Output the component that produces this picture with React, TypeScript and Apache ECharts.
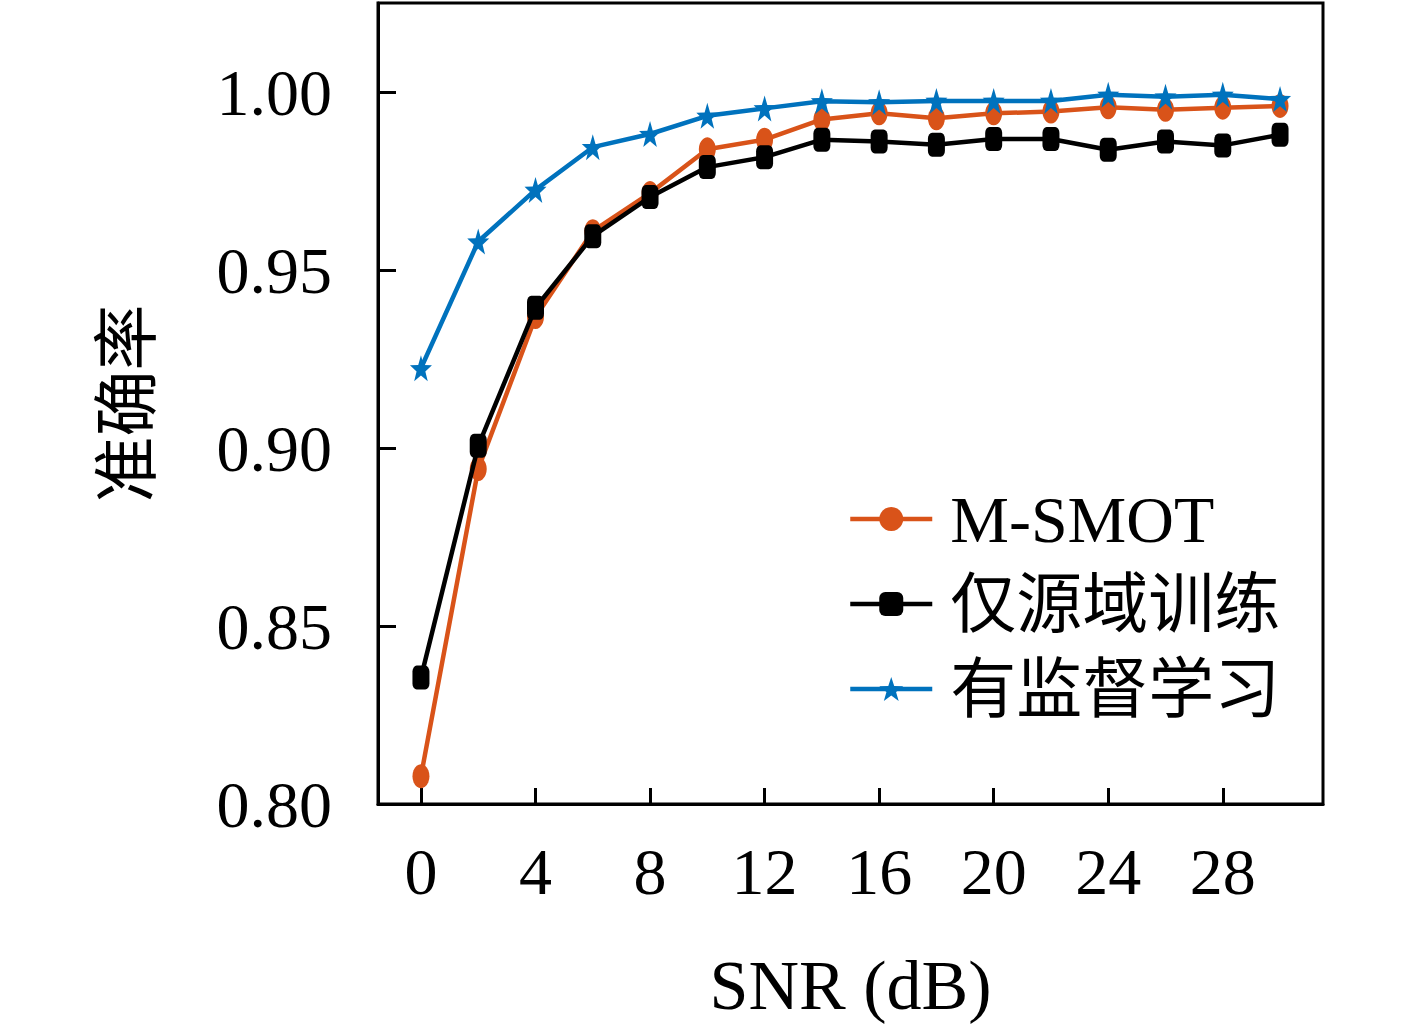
import React, { useEffect, useRef } from "react";
import * as echarts from "echarts";

const snr = [0, 2, 4, 6, 8, 10, 12, 14, 16, 18, 20, 22, 24, 26, 28, 30];
const msmot = [0.8078, 0.8941, 0.9368, 0.9609, 0.9716, 0.9839, 0.9866, 0.9923, 0.994, 0.9926, 0.994, 0.9945, 0.9957, 0.995, 0.9956, 0.9961];
const sourceOnly = [0.8355, 0.9006, 0.9394, 0.9595, 0.9705, 0.9789, 0.9817, 0.9866, 0.9861, 0.9852, 0.9868, 0.9868, 0.9838, 0.9861, 0.985, 0.988];
const supervised = [0.9224, 0.958, 0.9725, 0.9845, 0.9882, 0.9933, 0.9954, 0.9974, 0.9971, 0.9975, 0.9975, 0.9975, 0.9992, 0.9987, 0.9992, 0.998];
const xTicks = [0, 4, 8, 12, 16, 20, 24, 28];
const yTicks = [0.8, 0.85, 0.9, 0.95, 1.0];
const seriesNames = ["M-SMOT", "仅源域训练", "有监督学习"];

const FONT = "'Liberation Serif', 'Noto Sans CJK SC', serif";
const STAR =
  "path://M0,-10 L2.35,-3.24 L9.51,-3.09 L3.8,1.24 L5.88,8.09 L0,4 L-5.88,8.09 L-3.8,1.24 L-9.51,-3.09 L-2.35,-3.24 Z";

export default function App() {
  const ref = useRef<HTMLDivElement>(null);
  useEffect(() => {
    const chart = echarts.init(ref.current!, null, { renderer: "svg" });
    const mk = (arr: number[]) => snr.map((x, i) => [x, arr[i]]);
    chart.setOption({
      animation: false,
      backgroundColor: "#fff",
      textStyle: { fontFamily: FONT },
      grid: {
        left: 378,
        top: 3,
        right: 94,
        bottom: 219,
        show: true,
        borderColor: "#000",
        borderWidth: 3,
        backgroundColor: "transparent",
      },
      legend: {
        orient: "vertical",
        left: 843,
        top: 481,
        itemWidth: 82,
        itemHeight: 30,
        itemGap: 19,
        lineStyle: { width: 4.5 },
        textStyle: {
          fontFamily: FONT,
          fontSize: 66,
          color: "#000",
          lineHeight: 64,
          padding: [0, 0, 0, 13],
        },
        data: seriesNames,
      },
      xAxis: {
        type: "value",
        min: -1.5,
        max: 31.5,
        name: "SNR (dB)",
        nameLocation: "middle",
        nameGap: 146,
        nameTextStyle: { fontFamily: FONT, fontSize: 70, color: "#000" },
        splitLine: { show: false },
        axisLine: { show: true, onZero: false, lineStyle: { color: "#000", width: 3 } },
        axisTick: {
          show: true,
          inside: true,
          length: 16,
          lineStyle: { color: "#000", width: 3 },
          customValues: xTicks,
        },
        axisLabel: {
          fontFamily: FONT,
          fontSize: 66,
          color: "#000",
          margin: 34,
          customValues: xTicks,
          formatter: (v: number) => String(v),
        },
      },
      yAxis: {
        type: "value",
        min: 0.8,
        max: 1.025,
        name: "准确率",
        nameLocation: "middle",
        nameRotate: 90,
        nameGap: 218,
        nameTextStyle: { fontFamily: FONT, fontSize: 66, color: "#000" },
        splitLine: { show: false },
        axisLine: { show: true, onZero: false, lineStyle: { color: "#000", width: 3 } },
        axisTick: {
          show: true,
          inside: true,
          length: 18,
          lineStyle: { color: "#000", width: 3 },
          customValues: yTicks,
        },
        axisLabel: {
          fontFamily: FONT,
          fontSize: 66,
          color: "#000",
          margin: 46,
          customValues: yTicks,
          formatter: (v: number) => v.toFixed(2),
        },
      },
      series: [
        {
          name: seriesNames[0],
          type: "line",
          data: mk(msmot),
          color: "#D95319",
          lineStyle: { width: 4.5, color: "#D95319" },
          symbol: "circle",
          symbolSize: [17, 24],
          itemStyle: { color: "#D95319" },
          z: 3,
        },
        {
          name: seriesNames[1],
          type: "line",
          data: mk(sourceOnly),
          color: "#000",
          lineStyle: { width: 4.5, color: "#000" },
          symbol: "roundRect",
          symbolSize: [17, 24],
          itemStyle: { color: "#000" },
          z: 4,
        },
        {
          name: seriesNames[2],
          type: "line",
          data: mk(supervised),
          color: "#0072BD",
          lineStyle: { width: 4.5, color: "#0072BD" },
          symbol: STAR,
          symbolSize: [22, 26],
          itemStyle: { color: "#0072BD" },
          z: 5,
        },
      ],
    });
    return () => chart.dispose();
  }, []);
  return (
    <div
      ref={ref}
      style={{ position: "fixed", left: 0, top: 0, width: 1417, height: 1025, background: "#fff" }}
    />
  );
}
